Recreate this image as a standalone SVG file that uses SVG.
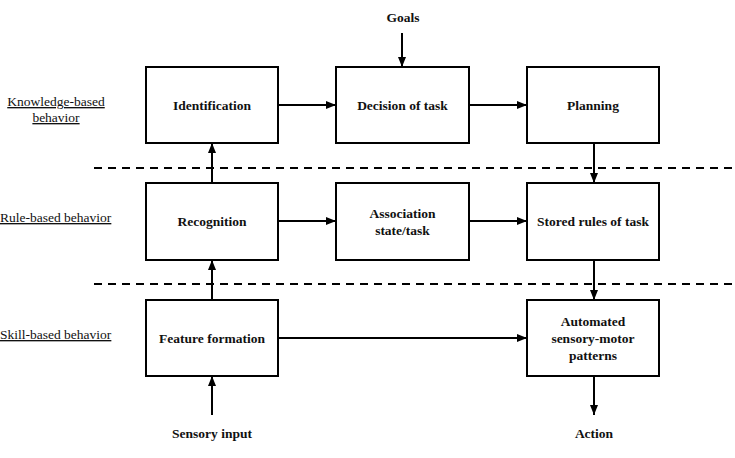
<svg xmlns="http://www.w3.org/2000/svg" width="735" height="458" viewBox="0 0 735 458">
<defs>
<marker id="ah" markerWidth="10" markerHeight="8" refX="10" refY="4" orient="auto" markerUnits="userSpaceOnUse">
<path d="M0,0 L10,4 L0,8 Z" fill="#000"/>
</marker>
<style>
.box{fill:#fff;stroke:#000;stroke-width:2}
.t{font-size:13.5px;font-weight:bold;text-anchor:middle;fill:#111}
.lbl{font-size:13.5px;fill:#111;text-decoration:underline}
.c{stroke:#000;stroke-width:2;fill:none;marker-end:url(#ah)}
.d{stroke:#000;stroke-width:2;stroke-dasharray:8,6;fill:none}
</style>
</defs>
<rect width="735" height="458" fill="#fff"/>
<g font-family="Liberation Serif, Times New Roman, DejaVu Serif, serif">
<g id="levels">
<line class="d" x1="94" y1="168" x2="732" y2="168"/>
<line class="d" x1="94" y1="284" x2="732" y2="284"/>
<text class="lbl" x="56" y="106" text-anchor="middle">Knowledge-based</text>
<text class="lbl" x="56" y="122" text-anchor="middle">behavior</text>
<text class="lbl" x="0" y="222">Rule-based behavior</text>
<text class="lbl" x="0" y="339">Skill-based behavior</text>
</g>
<g id="connectors">
<line class="c" x1="402" y1="33" x2="402" y2="67"/>
<line class="c" x1="278" y1="105" x2="336" y2="105"/>
<line class="c" x1="469" y1="105" x2="527" y2="105"/>
<line class="c" x1="594" y1="143" x2="594" y2="183"/>
<line class="c" x1="212" y1="183" x2="212" y2="143"/>
<line class="c" x1="278" y1="221" x2="336" y2="221"/>
<line class="c" x1="469" y1="221" x2="527" y2="221"/>
<line class="c" x1="594" y1="260" x2="594" y2="300"/>
<line class="c" x1="212" y1="300" x2="212" y2="260"/>
<line class="c" x1="278" y1="338" x2="527" y2="338"/>
<line class="c" x1="594" y1="376" x2="594" y2="415"/>
<line class="c" x1="212" y1="415" x2="212" y2="376"/>
</g>
<g id="goals"><text class="t" x="403" y="22">Goals</text></g>
<g id="identification"><rect class="box" x="146" y="67" width="132" height="76"/><text class="t" x="212" y="110">Identification</text></g>
<g id="decision"><rect class="box" x="336" y="67" width="133" height="76"/><text class="t" x="402.5" y="110">Decision of task</text></g>
<g id="planning"><rect class="box" x="527" y="67" width="132" height="76"/><text class="t" x="593" y="110">Planning</text></g>
<g id="recognition"><rect class="box" x="146" y="183" width="132" height="77"/><text class="t" x="212" y="226">Recognition</text></g>
<g id="association"><rect class="box" x="336" y="183" width="133" height="77"/><text class="t" x="402.5" y="218">Association</text><text class="t" x="402.5" y="235">state/task</text></g>
<g id="stored"><rect class="box" x="527" y="183" width="132" height="77"/><text class="t" x="593" y="226">Stored rules of task</text></g>
<g id="feature"><rect class="box" x="146" y="300" width="132" height="76"/><text class="t" x="212" y="343">Feature formation</text></g>
<g id="automated"><rect class="box" x="527" y="300" width="132" height="76"/><text class="t" x="593" y="326">Automated</text><text class="t" x="593" y="343">sensory-motor</text><text class="t" x="593" y="360">patterns</text></g>
<g id="sensory"><text class="t" x="212" y="438">Sensory input</text></g>
<g id="action"><text class="t" x="594" y="438">Action</text></g>
</g>
</svg>
